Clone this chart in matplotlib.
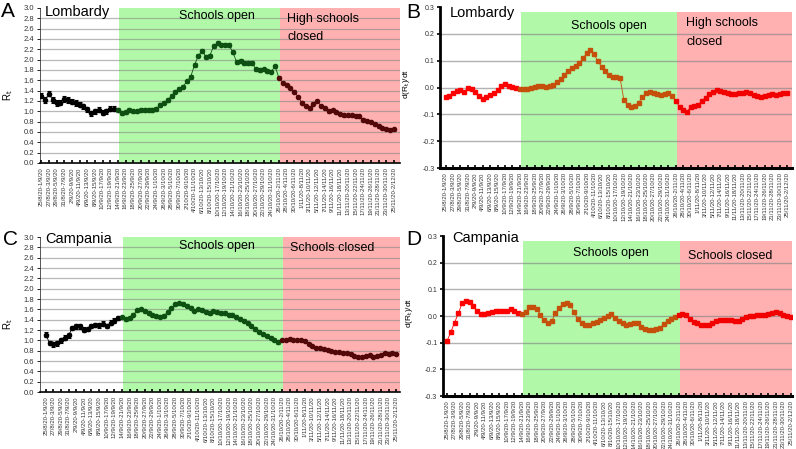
import numpy as np
import pandas as pd
import matplotlib
matplotlib.use('Agg')
import matplotlib.pyplot as plt

plt.rcParams['font.family'] = ['Liberation Sans', 'DejaVu Sans']
plt.rcParams['axes.unicode_minus'] = False

# one value per day: start of each 7-day window
start_dates = pd.date_range('2020-08-25', '2020-11-25', freq='D')
open_date = '2020-09-14'    # schools open
close_date = '2020-10-26'   # (high) schools closed

rt_lombardy = [1.30, 1.22, 1.34, 1.22, 1.16, 1.17, 1.24, 1.22, 1.19, 1.16,
               1.13, 1.10, 1.04, 0.96, 1.00, 1.03, 0.97, 1.00, 1.05, 1.05,
               1.02, 0.97, 0.99, 1.02, 1.00, 1.00, 1.02, 1.03, 1.02, 1.03,
               1.05, 1.12, 1.17, 1.22, 1.30, 1.38, 1.43, 1.48, 1.58, 1.67,
               1.90, 2.08, 2.17, 2.05, 2.08, 2.27, 2.32, 2.29, 2.29, 2.28,
               2.14, 1.95, 1.97, 1.94, 1.93, 1.94, 1.81, 1.80, 1.81, 1.78,
               1.77, 1.87, 1.65, 1.55, 1.50, 1.45, 1.38, 1.28, 1.17, 1.10,
               1.06, 1.15, 1.20, 1.10, 1.06, 1.00, 1.02, 0.98, 0.95, 0.92,
               0.93, 0.92, 0.91, 0.90, 0.84, 0.81, 0.79, 0.75, 0.71, 0.68,
               0.66, 0.64, 0.65]
rt_campania = [1.11, 0.95, 0.92, 0.94, 1.00, 1.05, 1.10, 1.24, 1.27, 1.27,
               1.21, 1.22, 1.28, 1.30, 1.29, 1.32, 1.28, 1.34, 1.38, 1.43,
               1.45, 1.41, 1.44, 1.50, 1.58, 1.60, 1.56, 1.53, 1.50, 1.47,
               1.46, 1.48, 1.54, 1.62, 1.70, 1.72, 1.71, 1.67, 1.63, 1.57,
               1.60, 1.58, 1.55, 1.53, 1.56, 1.54, 1.52, 1.53, 1.50, 1.50,
               1.46, 1.42, 1.38, 1.33, 1.28, 1.22, 1.17, 1.12, 1.09, 1.05,
               1.01, 0.96, 1.00, 1.01, 1.02, 1.01, 1.00, 1.00, 0.98, 0.93,
               0.89, 0.86, 0.85, 0.83, 0.81, 0.80, 0.78, 0.77, 0.76, 0.75,
               0.73, 0.70, 0.68, 0.68, 0.69, 0.72, 0.68, 0.70, 0.72, 0.75,
               0.74, 0.75, 0.74]
# error bar half-width before / during / after school opening
rt_err_lombardy = [0.05, 0.035, 0.025]
rt_err_campania = [0.045, 0.03, 0.02]

drt_lombardy = [-0.034, -0.030, -0.021, -0.014, -0.009, -0.016, -0.003, -0.006, -0.016, -0.033,
                -0.042, -0.036, -0.027, -0.019, -0.011, 0.007, 0.012, 0.007, 0.002, -0.001,
                -0.005, -0.007, -0.005, -0.002, 0.003, 0.005, 0.004, 0.001, 0.004, 0.010,
                0.020, 0.032, 0.048, 0.062, 0.072, 0.080, 0.090, 0.110, 0.127, 0.139,
                0.124, 0.098, 0.078, 0.062, 0.045, 0.040, 0.040, 0.035, -0.045, -0.065,
                -0.072, -0.068, -0.057, -0.035, -0.022, -0.015, -0.020, -0.026, -0.027, -0.025,
                -0.022, -0.030, -0.050, -0.072, -0.084, -0.090, -0.074, -0.069, -0.065, -0.050,
                -0.038, -0.025, -0.015, -0.010, -0.012, -0.018, -0.022, -0.025, -0.024, -0.022,
                -0.020, -0.018, -0.022, -0.028, -0.033, -0.035, -0.032, -0.028, -0.026, -0.028,
                -0.025, -0.022, -0.020]
drt_campania = [-0.093, -0.060, -0.025, 0.010, 0.047, 0.056, 0.054, 0.038, 0.019, 0.009,
                0.006, 0.013, 0.016, 0.018, 0.019, 0.020, 0.020, 0.025, 0.019, 0.010,
                0.009, 0.015, 0.032, 0.034, 0.028, 0.003, -0.016, -0.027, -0.019, 0.010,
                0.031, 0.045, 0.048, 0.040, 0.015, -0.013, -0.027, -0.035, -0.035, -0.027,
                -0.022, -0.015, -0.008, 0.000, 0.006, -0.006, -0.017, -0.027, -0.032, -0.031,
                -0.027, -0.027, -0.040, -0.050, -0.052, -0.052, -0.050, -0.044, -0.031, -0.019,
                -0.010, -0.002, 0.003, 0.006, 0.003, -0.010, -0.021, -0.027, -0.034, -0.035,
                -0.032, -0.025, -0.020, -0.016, -0.016, -0.014, -0.014, -0.019, -0.019, -0.010,
                -0.004, 0.000, 0.000, 0.003, 0.003, 0.005, 0.009, 0.013, 0.015, 0.010,
                0.005, -0.001, -0.004]

green_bg = '#b1f9a9'
red_bg = '#ffb1b1'
rt_colors = ['#000000', '#0e4f12', '#520808']
drt_colors = ['#ff0000', '#c4500c', '#f20000']

x = np.arange(len(start_dates))
open_i = start_dates.get_loc(pd.Timestamp(open_date))
close_i = start_dates.get_loc(pd.Timestamp(close_date))
phase = np.where(x < open_i, 0, np.where(x < close_i, 1, 2))
tick_labels = ['%d/%d/20-%d/%d/20' % (d.day, d.month, (d + pd.Timedelta(days=7)).day,
                                       (d + pd.Timedelta(days=7)).month)
               for d in start_dates[::2]]

fig = plt.figure(figsize=(7.96, 4.49), dpi=100)


def setup(ax, xlim, top):
    ax.set_xlim(*xlim)
    ax.axvspan(open_i + 0.3, close_i + 0.3, ymax=top, color=green_bg, lw=0, zorder=0)
    ax.axvspan(close_i + 0.3, xlim[1], ymax=top, color=red_bg, lw=0, zorder=0)
    ax.set_xticks(x[::2])
    ax.set_xticklabels(tick_labels, rotation=90, fontsize=4.3, color='#333333')
    ax.tick_params(axis='x', direction='in', length=2.5, width=1.2, pad=3)
    ax.spines['top'].set_visible(False)
    ax.spines['right'].set_visible(False)
    ax.set_axisbelow(False)


def draw_phases(ax, y, colors, err=None):
    y = np.array(y)
    for p in range(3):
        idx = x[phase == p]
        seg = np.arange(idx[0], min(idx[-1] + 2, len(x)))
        ax.plot(seg, y[seg], color=colors[p], lw=0.6, zorder=3)
        if err is None:
            ax.plot(idx, y[idx], 's', color=colors[p], ms=2.6, zorder=4)
        else:
            ax.errorbar(idx, y[idx], yerr=err[p], fmt='o', color=colors[p], ms=3.0,
                        elinewidth=0.8, capsize=1.5, capthick=0.8, zorder=4)


def rt_panel(rect, xlim, y, err, name, closed_text, text_pos):
    ax = fig.add_axes(rect)
    setup(ax, xlim, 1.0)
    ax.set_ylim(0, 3.0)
    ax.set_yticks(np.arange(0, 3.01, 0.2))
    ax.set_yticklabels(['%.1f' % v for v in np.arange(0, 3.01, 0.2)], fontsize=5.5, color='#333333')
    ax.tick_params(axis='y', direction='out', length=2.5, width=0.6, pad=2)
    ax.grid(axis='y', color='#7f7f7f', alpha=0.55, lw=0.9, zorder=1)
    ax.get_ygridlines()[-1].set_visible(False)
    ax.spines['left'].set_color('#555555')
    ax.spines['left'].set_linewidth(0.7)
    ax.spines['bottom'].set_linewidth(1.2)
    draw_phases(ax, y, rt_colors, err)
    ax.set_ylabel(r'R$_\mathrm{t}$', fontsize=7)
    ax.yaxis.set_label_coords(-0.07, 0.44)
    ax.text(0.014, text_pos[0], name, transform=ax.transAxes, fontsize=10.5, va='baseline')
    ax.text(0.492, text_pos[1], 'Schools open', transform=ax.transAxes, fontsize=9,
            ha='center', va='baseline')
    ax.text(text_pos[2], text_pos[3], closed_text, transform=ax.transAxes, fontsize=9,
            ha=text_pos[4], va='top', linespacing=1.75)
    return ax


def drt_panel(rect, xlim, y, name, closed_text, text_pos):
    ax = fig.add_axes(rect)
    setup(ax, xlim, 0.97)
    ax.set_ylim(-0.3, 0.3)
    ticks = np.arange(-0.3, 0.31, 0.1)
    ax.set_yticks(ticks)
    ax.set_yticklabels(['%.1f' % (v + 0.0) for v in np.round(ticks, 1)], fontsize=5, color='#333333')
    ax.tick_params(axis='y', direction='out', length=2, width=1.2, pad=2)
    for v in [-0.2, -0.1, 0.0, 0.1, 0.2]:
        ax.axhline(v, color='#7f7f7f', alpha=0.6, lw=1.0, zorder=1)
    ax.spines['left'].set_linewidth(2.0)
    ax.spines['bottom'].set_linewidth(2.2)
    draw_phases(ax, y, drt_colors)
    ax.set_ylabel(r'd(R$_\mathrm{t}$)/dt', fontsize=6)
    ax.yaxis.set_label_coords(-0.08, 0.52)
    ax.text(0.028, text_pos[0], name, transform=ax.transAxes, fontsize=10.5, va='baseline')
    ax.text(0.48, text_pos[1], 'Schools open', transform=ax.transAxes, fontsize=9,
            ha='center', va='baseline')
    ax.text(text_pos[2], text_pos[3], closed_text, transform=ax.transAxes, fontsize=9,
            ha=text_pos[4], va='top', linespacing=1.75)
    return ax


rt_panel([0.0503, 0.637, 0.4523, 0.3452], (-0.3, 93.6), rt_lombardy, rt_err_lombardy,
         'Lombardy', 'High schools\nclosed', (0.948, 0.926, 0.686, 0.97, 'left'))
drt_panel([0.5528, 0.6258, 0.4422, 0.3586], (-1.5, 93.3), drt_lombardy,
          'Lombardy', 'High schools\nclosed', (0.94, 0.863, 0.70, 0.935, 'left'))
rt_panel([0.0503, 0.1269, 0.4523, 0.3452], (-1.5, 93.0), rt_campania, rt_err_campania,
         'Campania', 'Schools closed', (0.961, 0.923, 0.811, 0.965, 'center'))
drt_panel([0.5565, 0.118, 0.4384, 0.3563], (-1.1, 92.3), drt_campania,
          'Campania', 'Schools closed', (0.96, 0.875, 0.822, 0.91, 'center'))

for lx, ly, letter in [(0.001, 0.962, 'A'), (0.51, 0.96, 'B'), (0.004, 0.454, 'C'), (0.51, 0.454, 'D')]:
    fig.text(lx, ly, letter, fontsize=15, va='baseline')

fig.savefig('out.png', dpi=100)
